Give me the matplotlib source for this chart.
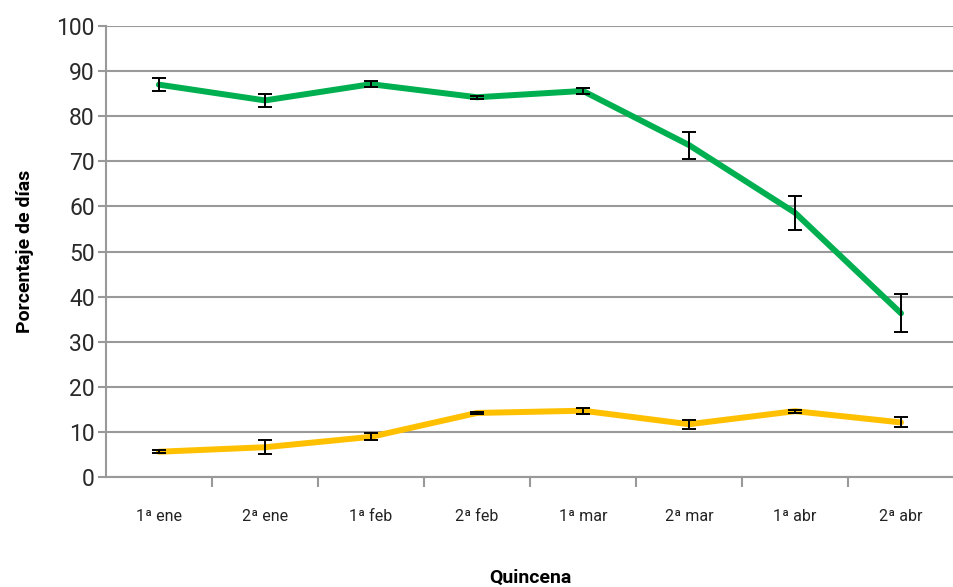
import numpy as np
import matplotlib
matplotlib.use("Agg")
import matplotlib.pyplot as plt
from matplotlib.ticker import FixedLocator, MultipleLocator

plt.rcParams['font.family'] = ['Roboto', 'DejaVu Sans']

quincenas = ["1ª ene", "2ª ene", "1ª feb", "2ª feb", "1ª mar", "2ª mar", "1ª abr", "2ª abr"]
verde = [87.0, 83.5, 87.1, 84.2, 85.6, 73.6, 58.6, 36.3]
verde_err = [1.5, 1.5, 0.7, 0.3, 0.7, 3.0, 3.8, 4.2]
amarillo = [5.6, 6.6, 8.9, 14.2, 14.7, 11.7, 14.6, 12.1]
amarillo_err = [0.3, 1.5, 0.8, 0.3, 0.7, 1.0, 0.3, 1.1]

GREEN = "#00B050"
YELLOW = "#FFC000"
GRID = "#999999"

fig = plt.figure(figsize=(9.54, 5.87), dpi=100)
ax = fig.add_axes([0.111, 0.1874, 0.889, 0.7683])

x = np.arange(len(quincenas))

for vals, errs, col in [(verde, verde_err, GREEN), (amarillo, amarillo_err, YELLOW)]:
    ax.plot(x, vals, color=col, lw=4.3, solid_capstyle="round",
            solid_joinstyle="round", zorder=3)
    ax.errorbar(x, vals, yerr=errs, fmt="none", ecolor="black", elinewidth=1.4,
                capsize=5, capthick=1.4, zorder=4)

ax.set_xlim(-0.5, len(quincenas) - 0.5)
ax.set_ylim(0, 100)
ax.yaxis.set_major_locator(MultipleLocator(10))
ax.grid(axis="y", color=GRID, lw=1.5, zorder=0)
ax.set_axisbelow(True)

ax.set_xticks(x)
ax.set_xticklabels(quincenas, fontsize=11.5, color="#222222")
ax.xaxis.set_minor_locator(FixedLocator(np.arange(0.5, len(quincenas) - 0.5, 1.0)))
ax.tick_params(axis="x", which="major", length=0, pad=23)
ax.tick_params(axis="x", which="minor", length=7, width=1.5, color=GRID, direction="out")
ax.tick_params(axis="y", length=6, width=1.5, color=GRID, labelsize=16.5,
               labelcolor="#2a2a2a", pad=2)

for side in ["top", "right"]:
    ax.spines[side].set_visible(False)
for side in ["left", "bottom"]:
    ax.spines[side].set_color(GRID)
    ax.spines[side].set_linewidth(1.5)

ax.set_ylabel("Porcentaje de días", fontsize=14, fontweight="bold", labelpad=16)
ax.set_xlabel("Quincena", fontsize=14, fontweight="bold", labelpad=32)

fig.savefig("out.png", dpi=100)
